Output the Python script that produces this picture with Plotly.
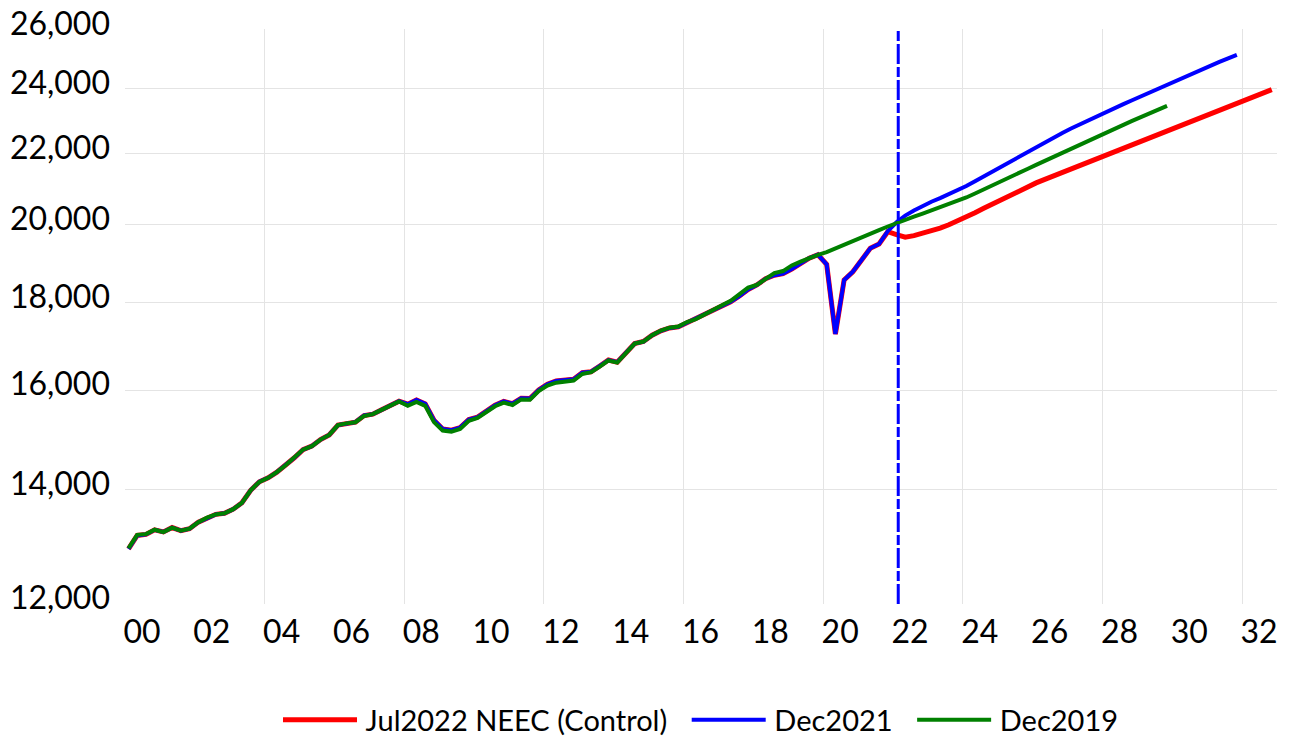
import math
import plotly.graph_objects as go

# ---------------- data (billions, quarterly, starting 2000Q1) ----------------
start_year = 2000

jul2022_history = [
    12924, 13160, 13178, 13260,   # 2000
    13222, 13300, 13245, 13280,   # 2001
    13398, 13478, 13539, 13559,   # 2002
    13634, 13751, 13985, 14146,   # 2003
    14221, 14330, 14465, 14610,   # 2004
    14771, 14840, 14972, 15067,   # 2005
    15267, 15302, 15327, 15465,   # 2006
    15494, 15583, 15672, 15767,   # 2007
    15702, 15793, 15709, 15367,   # 2008
    15188, 15162, 15216, 15380,   # 2009
    15433, 15558, 15681, 15761,   # 2010
    15713, 15826, 15821, 16004,   # 2011
    16130, 16199, 16220, 16239,   # 2012
    16383, 16404, 16531, 16664,   # 2013
    16617, 16828, 17038, 17084,   # 2014
    17230, 17333, 17400, 17424,   # 2015
    17524, 17599, 17705, 17805,   # 2016
    17926, 18021, 18164, 18325,   # 2017
    18436, 18591, 18679, 18722,   # 2018
    18834, 18983, 19113, 19202,   # 2019
    18952, 17258, 18560, 18767,   # 2020
    19056, 19368, 19479, 19806,   # 2021
    19728, 19660,                 # 2022 Q1-Q2
]
jul2022_forecast = [            # 2022Q3 - 2032Q4
    19700, 19760,
    19830, 19900, 19990, 20090,
    20200, 20320, 20440, 20560,
    20680, 20800, 20920, 21040,
    21150, 21250, 21350, 21450,
    21550, 21650, 21750, 21850,
    21950, 22050, 22150, 22250,
    22355, 22460, 22565, 22670,
    22780, 22890, 23000, 23110,
    23220, 23330, 23440, 23550,
    23660, 23770, 23875, 23980,
]

dec2021_forecast = [            # 2021Q4 - 2031Q4 (history = jul2022 through 2021Q3)
    19820,
    20060, 20240, 20380, 20510,
    20620, 20720, 20830, 20940,
    21060, 21200, 21340, 21480,
    21620, 21760, 21900, 22040,
    22185, 22330, 22475, 22620,
    22755, 22885, 23015, 23140,
    23265, 23390, 23515, 23640,
    23765, 23890, 24015, 24140,
    24265, 24390, 24515, 24640,
    24765, 24890, 25010, 25130,
]

dec2019_history = [
    12935, 13170, 13183, 13262,
    13220, 13299, 13244, 13280,
    13397, 13478, 13538, 13559,
    13634, 13751, 13985, 14145,
    14221, 14330, 14464, 14609,
    14771, 14839, 14972, 15066,
    15267, 15302, 15326, 15456,
    15493, 15582, 15666, 15762,
    15671, 15752, 15667, 15328,
    15156, 15134, 15189, 15356,
    15415, 15535, 15659, 15736,
    15685, 15804, 15797, 15983,
    16100, 16164, 16184, 16209,
    16355, 16393, 16517, 16654,
    16606, 16820, 17036, 17084,
    17232, 17340, 17405, 17431,
    17539, 17609, 17710, 17812,
    17937, 18048, 18194, 18370,
    18438, 18598, 18733, 18784,
    18927, 19022, 19121,
]
dec2019_forecast = [            # 2019Q4 - 2029Q4
    19200,
    19270, 19370, 19470, 19570,
    19665, 19760, 19850, 19945,
    20040, 20125, 20210, 20295,
    20380, 20460, 20545, 20630,
    20740, 20850, 20960, 21075,
    21190, 21310, 21430, 21550,
    21670, 21790, 21910, 22030,
    22150, 22270, 22390, 22510,
    22630, 22750, 22870, 22990,
    23105, 23220, 23340, 23460,
]

series_names = ["Jul2022 NEEC (Control)", "Dec2021", "Dec2019"]
series_colors = ["#ff0000", "#0000ff", "#008000"]
series_widths = [5, 4, 4]

y_ticks = [12000, 14000, 16000, 18000, 20000, 22000, 24000, 26000]
x_label_years = list(range(2000, 2033, 2))
x_grid_years = list(range(2004, 2033, 4))
forecast_start_quarter = 88   # 2022Q1

# ---------------- build ----------------
jul2022 = jul2022_history + jul2022_forecast
dec2021 = jul2022_history[:87] + dec2021_forecast
dec2019 = dec2019_history + dec2019_forecast


def quarter_pos(n):
    # one point per quarter, placed a little into the quarter
    return [start_year + 0.1 + 0.25 * i for i in range(n)]


# legend labels get a little breathing room, as in the original legend
legend_labels = ["\u2009" + n + ("\u2002" if k < len(series_names) - 1 else "")
                 for k, n in enumerate(series_names)]

fig = go.Figure()
for name, label, vals, col, w in zip(series_names, legend_labels,
                                     [jul2022, dec2021, dec2019],
                                     series_colors, series_widths):
    fig.add_trace(go.Scatter(
        x=quarter_pos(len(vals)), y=vals, mode="lines", name=label,
        line=dict(color=col, width=w),
        hovertemplate=name + ": %{y:,.0f}<extra></extra>",
    ))

vline_x = start_year + 0.1 + 0.25 * forecast_start_quarter + 0.05
fig.add_shape(type="line", xref="x", yref="paper", x0=vline_x, x1=vline_x, y0=0, y1=1,
              line=dict(color="#0000ff", width=3, dash="20px,3px,10px,3px"))

GRID = "#e4e4e4"
fig.update_layout(
    width=1290, height=738,
    margin=dict(l=125, r=13, t=29, b=134, autoexpand=False),
    paper_bgcolor="white", plot_bgcolor="white",
    font=dict(family="Lato, Open Sans, sans-serif", color="black"),
    showlegend=True,
    legend=dict(orientation="h", x=0.5, xanchor="center", y=-0.2017, yanchor="middle",
                font=dict(size=29, family="Lato, sans-serif", color="black"),
                traceorder="normal", itemwidth=74),
    xaxis=dict(
        range=[2000, 2033], automargin=False,
        tickmode="array", tickvals=x_label_years,
        ticktext=[f"{y % 100:02d}" for y in x_label_years],
        ticklabelshift=17, ticklabelstandoff=6, ticklabeloverflow="allow",
        showgrid=False, zeroline=False, showline=False, ticks="",
        tickfont=dict(size=32, family="Lato, sans-serif", color="black"),
        minor=dict(tickmode="array", tickvals=x_grid_years, showgrid=True,
                   gridcolor=GRID, gridwidth=1.3, ticks=""),
    ),
    yaxis=dict(
        type="log", automargin=False,
        range=[math.log10(y_ticks[0]), math.log10(y_ticks[-1]) + 0.0003],
        tickmode="array", tickvals=y_ticks,
        ticktext=[f"{v:,}" for v in y_ticks],
        showgrid=True, gridcolor=GRID, gridwidth=1.3,
        zeroline=False, showline=False, ticks="",
        ticklabelshift=-6, ticklabelstandoff=14, ticklabeloverflow="allow",
        tickfont=dict(size=32, family="Lato, sans-serif", color="black"),
    ),
)

# drop the browser's default 8px page margin so the figure fills the window exactly
fig.write_html("out.html",
               config={"displayModeBar": False},
               post_script="document.body.style.margin='0';document.body.style.overflow='hidden';")
